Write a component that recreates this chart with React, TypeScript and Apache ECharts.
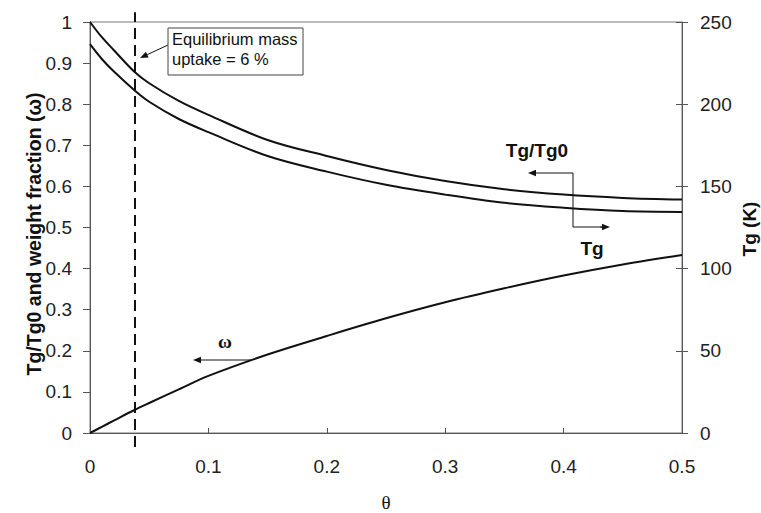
import React, { useEffect, useRef } from "react";
import * as echarts from "echarts";

// ---- data ----
const theta = [0, 0.01, 0.02, 0.0375, 0.05, 0.075, 0.1, 0.15, 0.2, 0.25, 0.3, 0.35, 0.4, 0.45, 0.5];
const tgRatio = [1.0, 0.963, 0.932, 0.879, 0.851, 0.808, 0.774, 0.713, 0.674, 0.64, 0.613, 0.593, 0.58, 0.572, 0.568];
const tgKelvin = [236.5, 227.5, 220, 208.5, 201.5, 191, 183, 168.5, 159, 151, 145, 140, 137, 135, 134.5];
const weightFraction = [0, 0.015, 0.03, 0.056, 0.073, 0.106, 0.139, 0.191, 0.236, 0.279, 0.318, 0.352, 0.383, 0.41, 0.433];
const equilibriumTheta = 0.038;
const equilibriumSpan = [-0.034, 1.024];

const leftTitle = "Tg/Tg0 and weight fraction (\u03c9)";
const rightTitle = "Tg (K)";
const xTitle = "\u03b8";
const noteLines = ["Equilibrium mass", "uptake = 6 %"];

const SANS = "Liberation Sans, Arial, sans-serif";
const SERIF = "Liberation Serif, Times New Roman, serif";
const INK = "#111";

function arrow(x1: number, y1: number, x2: number, y2: number, len = 8, half = 3.2): any[] {
  const dx = x2 - x1;
  const dy = y2 - y1;
  const d = Math.hypot(dx, dy);
  const ux = dx / d;
  const uy = dy / d;
  const bx = x2 - ux * len;
  const by = y2 - uy * len;
  const px = -uy * half;
  const py = ux * half;
  return [
    { type: "line", shape: { x1, y1, x2: bx, y2: by }, style: { stroke: INK, lineWidth: 1 } },
    {
      type: "polygon",
      shape: { points: [[x2, y2], [bx + px, by + py], [bx - px, by - py]] },
      style: { fill: INK },
    },
  ];
}

export default function App() {
  const ref = useRef<HTMLDivElement>(null);

  useEffect(() => {
    if (!ref.current) return;
    const chart = echarts.init(ref.current, undefined, { renderer: "svg" });

    const pair = (ys: number[]) => theta.map((t, i) => [t, ys[i]]);
    const curve = (name: string, ys: number[], yAxisIndex: number) => ({
      name,
      type: "line",
      yAxisIndex,
      data: pair(ys),
      smooth: 0.35,
      showSymbol: false,
      lineStyle: { color: INK, width: 2 },
    });

    const graphic: any[] = [
      // axis titles
      {
        type: "text",
        x: 34,
        y: 234,
        rotation: Math.PI / 2,
        style: {
          text: leftTitle,
          font: `bold 19.5px ${SANS}`,
          fill: INK,
          align: "center",
          verticalAlign: "middle",
        },
      },
      {
        type: "text",
        x: 749,
        y: 229,
        rotation: Math.PI / 2,
        style: {
          text: rightTitle,
          font: `bold 19px ${SANS}`,
          fill: INK,
          align: "center",
          verticalAlign: "middle",
        },
      },
      // annotation box
      {
        type: "rect",
        shape: { x: 168, y: 28, width: 135, height: 47 },
        style: { fill: "#fff", stroke: "#444", lineWidth: 1 },
        z: 10,
      },
      {
        type: "text",
        x: 172,
        y: 29,
        style: {
          text: noteLines.join("\n"),
          font: `16.5px ${SANS}`,
          lineHeight: 20,
          fill: INK,
          verticalAlign: "top",
        },
        z: 11,
      },
      ...arrow(168, 45, 140, 58),
      // Tg/Tg0 and Tg labels with bracket
      {
        type: "text",
        x: 537,
        y: 150,
        style: { text: "Tg/Tg0", font: `bold 19px ${SANS}`, fill: INK, align: "center", verticalAlign: "middle" },
      },
      {
        type: "polyline",
        shape: { points: [[573, 173], [573, 227], [602, 227]] },
        style: { stroke: INK, lineWidth: 1, fill: "none" },
      },
      ...arrow(573, 173, 528, 173),
      ...arrow(600, 227, 610, 227),
      {
        type: "text",
        x: 592,
        y: 248,
        style: { text: "Tg", font: `bold 19px ${SANS}`, fill: INK, align: "center", verticalAlign: "middle" },
      },
      // omega label
      {
        type: "text",
        x: 225,
        y: 341,
        style: { text: "\u03c9", font: `bold 19px ${SERIF}`, fill: INK, align: "center", verticalAlign: "middle" },
      },
      ...arrow(252, 360, 193, 360),
    ];

    chart.setOption({
      animation: false,
      backgroundColor: "#fff",
      grid: {
        left: 90,
        right: 79,
        top: 22,
        bottom: 80,
        containLabel: false,
        outerBoundsMode: "none",
        show: true,
        borderColor: "#777",
        borderWidth: 1,
      },
      xAxis: {
        type: "value",
        min: 0,
        max: 0.5,
        interval: 0.1,
        axisLine: { show: true, lineStyle: { color: "#555" } },
        axisTick: { show: true, inside: true, length: 5, lineStyle: { color: "#555" } },
        splitLine: { show: false },
        axisLabel: { fontSize: 19, fontFamily: SANS, color: "#222", margin: 24 },
        name: xTitle,
        nameLocation: "middle",
        nameGap: 60,
        nameTextStyle: { fontSize: 19, fontFamily: SERIF, color: INK },
      },
      yAxis: [
        {
          type: "value",
          position: "left",
          min: 0,
          max: 1,
          interval: 0.1,
          axisLine: { show: true, lineStyle: { color: "#555" } },
          axisTick: { show: true, length: 7, lineStyle: { color: "#555" } },
          splitLine: { show: false },
          axisLabel: { fontSize: 19, fontFamily: SANS, color: "#222", margin: 18 },
        },
        {
          type: "value",
          position: "right",
          min: 0,
          max: 250,
          interval: 50,
          axisLine: { show: true, lineStyle: { color: "#555" } },
          axisTick: { show: true, length: 6, lineStyle: { color: "#555" } },
          splitLine: { show: false },
          axisLabel: { fontSize: 19, fontFamily: SANS, color: "#222", margin: 18 },
        },
        {
          type: "value",
          position: "right",
          min: 0,
          max: 250,
          interval: 50,
          axisLine: { show: false },
          axisTick: { show: true, inside: true, length: 6, lineStyle: { color: "#555" } },
          splitLine: { show: false },
          axisLabel: { show: false },
        },
      ],
      series: [
        curve("Tg/Tg0", tgRatio, 0),
        curve("Tg", tgKelvin, 1),
        curve("\u03c9", weightFraction, 0),
        {
          name: "equilibrium",
          type: "line",
          yAxisIndex: 0,
          data: equilibriumSpan.map((v) => [equilibriumTheta, v]),
          showSymbol: false,
          clip: false,
          lineStyle: { color: INK, width: 2, type: [11, 6] },
        },
      ],
      graphic,
    });

    return () => chart.dispose();
  }, []);

  return <div ref={ref} style={{ position: "fixed", left: 0, top: 0, width: 761, height: 513 }} />;
}
